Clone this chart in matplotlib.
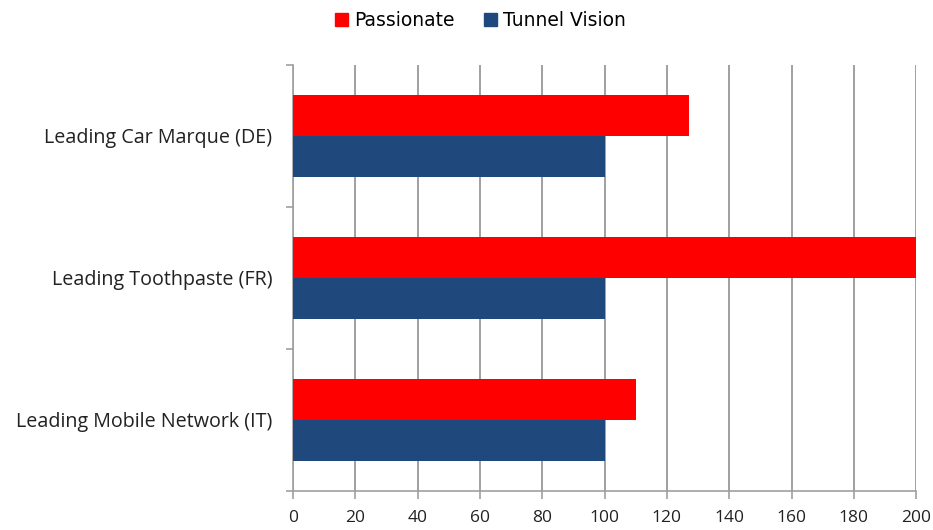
import matplotlib.pyplot as plt
from matplotlib.patches import Patch
import numpy as np

categories = ["Leading Car Marque (DE)", "Leading Toothpaste (FR)", "Leading Mobile Network (IT)"]
passionate = [127, 200, 110]
tunnel_vision = [100, 100, 100]
xticks = list(range(0, 201, 20))

RED = "#FF0000"
BLUE = "#1F497D"
GRID = "#A0A0A0"

fig = plt.figure(figsize=(9.33, 5.30), dpi=100)
ax = fig.add_axes([0.314, 0.0736, 0.668, 0.8038])

y = np.arange(len(categories))
h = 0.29
ax.barh(y - h / 2, passionate, height=h, color=RED, zorder=3)
ax.barh(y + h / 2, tunnel_vision, height=h, color=BLUE, zorder=3)

ax.set_ylim(len(categories) - 0.5, -0.5)
ax.set_xlim(0, 200)
ax.set_xticks(xticks)
ax.set_yticks(y)
ax.set_yticklabels(categories, fontsize=14.2, family="Open Sans", color="#222222")
ax.set_yticks(np.arange(-0.5, len(categories)), minor=True)
ax.tick_params(axis="y", which="major", length=0, pad=15)
ax.tick_params(axis="y", which="minor", length=5, color=GRID, width=1.2)
ax.tick_params(axis="x", length=6, color=GRID, width=1.2, pad=8, labelsize=12.5)
for lbl in ax.get_xticklabels():
    lbl.set_family("Open Sans")
    lbl.set_color("#222222")

ax.grid(axis="x", color=GRID, linewidth=1.4, zorder=0)
for side in ("top", "right"):
    ax.spines[side].set_visible(False)
for side in ("left", "bottom"):
    ax.spines[side].set_color(GRID)
    ax.spines[side].set_linewidth(1.2)

handles = [Patch(color=RED, label="Passionate"), Patch(color=BLUE, label="Tunnel Vision")]
fig.legend(handles=handles, loc="center", bbox_to_anchor=(0.515, 0.962), ncol=2,
           frameon=False, fontsize=13.5, handlelength=0.7, handleheight=0.7,
           handletextpad=0.3, columnspacing=1.6)

fig.savefig("out.png", dpi=100)
